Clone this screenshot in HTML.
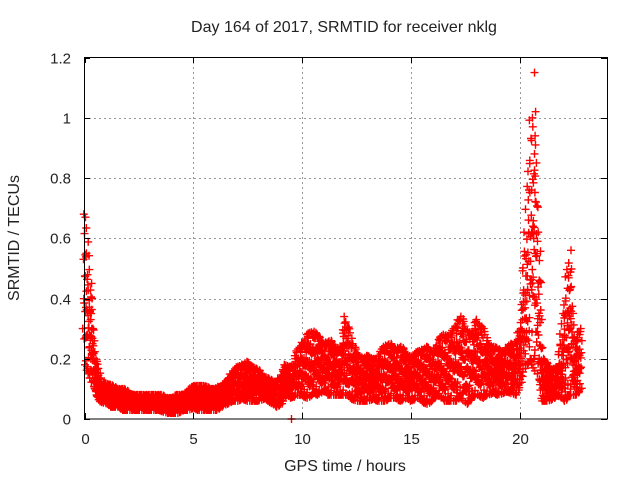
<!DOCTYPE html>
<html><head><meta charset="utf-8"><style>
body{margin:0;background:#fff}
svg text{font-family:"Liberation Sans",sans-serif;font-size:15px;fill:#222}
svg text.big{font-size:16px}
</style></head><body>
<svg id="chart" width="640" height="480" xmlns="http://www.w3.org/2000/svg">
<rect width="640" height="480" fill="#fff"/>
<text class="big" x="344" y="32" text-anchor="middle">Day 164 of 2017, SRMTID for receiver nklg</text>
<text class="big" x="345" y="471" text-anchor="middle">GPS time / hours</text>
<text class="big" transform="translate(19,238) rotate(-90)" text-anchor="middle">SRMTID / TECUs</text>
<g id="grid"></g><g id="marks"></g>
<rect x="84.5" y="57.5" width="523" height="361.5" fill="none" stroke="#000" stroke-width="1"/>
<g id="ticks"></g>
</svg>
<script>
const xTicks=[0,5,10,15,20];
const yTicks=[0,0.2,0.4,0.6,0.8,1,1.2];
const yTickLabels=["0","0.2","0.4","0.6","0.8","1","1.2"];
const times=[];for(let i=0;i<=91;i++)times.push(i*0.25);
const hiVals=[.68,.45,.20,.12,.12,.11,.10,.10,.09,.08,.08,.08,.08,.08,.08,.07,.07,.08,.08,.09,.11,.11,.11,.10,.10,.11,.12,.15,.17,.18,.19,.17,.16,.14,.13,.12,.14,.18,.17,.22,.25,.28,.29,.27,.25,.26,.24,.23,.34,.25,.22,.20,.21,.20,.20,.24,.25,.23,.24,.22,.20,.22,.23,.24,.22,.26,.28,.27,.30,.34,.30,.28,.33,.30,.25,.24,.23,.22,.25,.24,.30,.62,1.0,.85,.20,.18,.16,.18,.35,.56,.25,.30];
const loVals=[.18,.15,.08,.06,.05,.04,.04,.03,.03,.03,.03,.03,.03,.03,.03,.02,.02,.02,.03,.03,.04,.03,.03,.03,.03,.04,.05,.06,.06,.07,.06,.06,.06,.07,.06,.04,.05,.08,.07,.08,.08,.07,.09,.08,.10,.08,.08,.08,.08,.07,.06,.06,.06,.07,.06,.06,.07,.07,.06,.07,.06,.07,.06,.05,.07,.08,.06,.06,.06,.08,.05,.07,.08,.07,.08,.09,.08,.09,.09,.08,.12,.18,.20,.15,.06,.06,.07,.08,.06,.08,.08,.10];
const spikeTimes=[20.65,20.7,9.5];
const spikeVals=[1.15,1.02,0.0];
const X=v=>84.5+v*(523/24);
const Y=v=>419-v*(361.5/1.2);
const NS="http://www.w3.org/2000/svg";
const grid=document.getElementById('grid'),marks=document.getElementById('marks'),ticks=document.getElementById('ticks');
function ln(p,x1,y1,x2,y2,st,dash,name){const l=document.createElementNS(NS,'line');l.setAttribute('x1',x1);l.setAttribute('y1',y1);l.setAttribute('x2',x2);l.setAttribute('y2',y2);l.setAttribute('stroke',st);if(dash)l.setAttribute('stroke-dasharray',dash);


p.appendChild(l);}
function tx(x,y,s,anchor,name){const t=document.createElementNS(NS,'text');t.setAttribute('x',x);t.setAttribute('y',y);t.setAttribute('text-anchor',anchor);t.textContent=s;


ticks.appendChild(t);}
xTicks.forEach(v=>{const x=Math.round(X(v))+0.5;if(v>0)ln(grid,x,57,x,419,'#999','2,3','x-gridline');ln(ticks,x,419,x,413,'#000',null,'x-tick');ln(ticks,x,57,x,63,'#000',null,'x-tick');tx(x,444,String(v),'middle','x-tick-label');});
yTicks.forEach((v,i)=>{const y=Math.round(Y(v))+0.5;if(v>0&&v<1.2)ln(grid,84,y,607,y,'#999','2,3','y-gridline');ln(ticks,84,y,90,y,'#000',null,'y-tick');ln(ticks,607,y,601,y,'#000',null,'y-tick');tx(71,y+5,yTickLabels[i],'end','y-tick-label');});
let d='';
function cross(x,y){d+=`M${(x-4).toFixed(1)} ${y.toFixed(1)}h8M${x.toFixed(1)} ${(y-4).toFixed(1)}v8`;}
const fr=[0,0.13,0.27,0.38,0.5,0.62,0.75,0.88,1];
const jit=[0.07,-0.05,0.11,-0.09,0.03,-0.12,0.08,-0.02,0.1,-0.07,0.05];
let c=0;
for(let i=0;i<times.length;i++){
  const n=i<times.length-1?5:1;
  for(let s=0;s<n;s++){
    const f=s/5;const j=Math.min(i+1,times.length-1);
    const t=times[i]+(times[j]-times[i])*f;
    const hi=hiVals[i]+(hiVals[j]-hiVals[i])*f, lo=loVals[i]+(loVals[j]-loVals[i])*f;
    fr.forEach(q=>{c++;let qq=Math.min(1,Math.max(0,q+jit[c%jit.length]*((q>0&&q<1)?1:0)));cross(X(t)+jit[(c+3)%jit.length]*15,Y(lo+(hi-lo)*qq));});
  }
}
for(let i=0;i<spikeTimes.length;i++)cross(X(spikeTimes[i]),Y(spikeVals[i]));
const p=document.createElementNS(NS,'path');p.setAttribute('d',d);p.setAttribute('stroke','#f00');p.setAttribute('stroke-width','1.4');p.setAttribute('fill','none');


marks.appendChild(p);
</script>
</body></html>
